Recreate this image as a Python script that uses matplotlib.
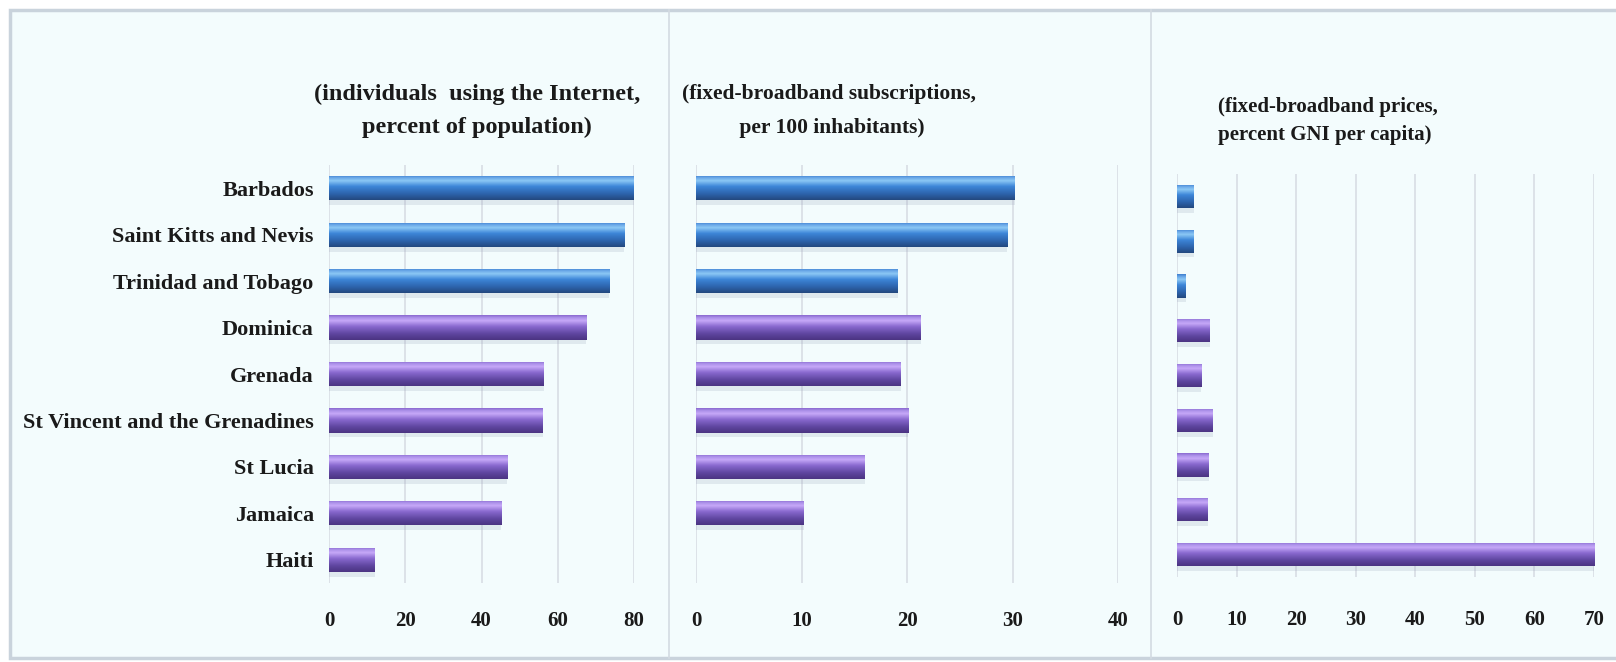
import numpy as np
import matplotlib
matplotlib.use("Agg")
import matplotlib.pyplot as plt
from matplotlib.colors import LinearSegmentedColormap
from matplotlib.patches import Rectangle

# data
countries = ["Barbados", "Saint Kitts and Nevis", "Trinidad and Tobago", "Dominica",
             "Grenada", "St Vincent and the Grenadines", "St Lucia", "Jamaica", "Haiti"]
internet_users = [80, 77.5, 73.5, 67.5, 56.3, 56, 46.8, 45.2, 12]
fbb_subs = [30.2, 29.5, 19.1, 21.3, 19.4, 20.1, 16, 10.2, 0]
fbb_prices = [2.8, 2.8, 1.5, 5.5, 4.1, 6, 5.3, 5.2, 70]
group = ["blue"] * 3 + ["purple"] * 6

titles = ["(individuals  using the Internet,\npercent of population)",
          "(fixed-broadband subscriptions,\n per 100 inhabitants)",
          "(fixed-broadband prices,\npercent GNI per capita)"]
xlims = [(0, 80), (0, 40), (0, 70)]
xticks = [np.arange(0, 81, 20), np.arange(0, 41, 10), np.arange(0, 71, 10)]

W, H = 1616, 662
bg = "#f3fcfd"
font = "Liberation Serif"

# vertical shading of the bars, 0 = bottom, 1 = top
grad = {
    "blue": LinearSegmentedColormap.from_list("b", [(0, "#24497f"), (0.25, "#2d64ad"),
                                                    (0.55, "#3d86d8"), (0.78, "#8cc8f5"),
                                                    (0.9, "#6aa8e8"), (1, "#3f7fcf")]),
    "purple": LinearSegmentedColormap.from_list("p", [(0, "#4b3482"), (0.25, "#5f46a0"),
                                                      (0.55, "#8a6ad0"), (0.78, "#c6a8f8"),
                                                      (0.9, "#ad92ea"), (1, "#8a6ad0")]),
}

fig = plt.figure(figsize=(W / 100, H / 100), dpi=100)
fig.patch.set_facecolor("white")

# outer frame and panel separators
frame = Rectangle((10 / W, 1 - 658 / H), (W - 8) / W, 648 / H, transform=fig.transFigure,
                  facecolor=bg, edgecolor="#c9d3dc", lw=2.5, zorder=-5)
fig.add_artist(frame)
for xs in [669, 1151]:
    fig.add_artist(plt.Line2D([xs / W, xs / W], [1 - 658 / H, 1 - 10 / H],
                              transform=fig.transFigure, color="#d3dbe2", lw=1.2, zorder=-4))

# axes boxes in pixels: left, right, top, bottom
boxes = [(329, 634, 165, 583), (696, 1118, 165, 583), (1177, 1594, 174, 577)]
series = [internet_users, fbb_subs, fbb_prices]
pads = [20, 20, 24]

for k, (box, vals) in enumerate(zip(boxes, series)):
    l, r, t, b = box
    ax = fig.add_axes([l / W, 1 - b / H, (r - l) / W, (b - t) / H])
    ax.set_facecolor("none")
    y = np.arange(len(countries))
    bars = ax.barh(y, vals, height=0.52, color="none", zorder=3)
    # shadow + gradient fill for the cylinder look
    for bar, g in zip(bars, group):
        x0, y0 = bar.get_x(), bar.get_y()
        w, h = bar.get_width(), bar.get_height()
        if w <= 0:
            continue
        sh = Rectangle((x0, y0 + h * 0.2), w, h, facecolor="#9aa6bb", alpha=0.22,
                       edgecolor="none", zorder=2)
        ax.add_patch(sh)
        g_arr = np.linspace(1, 0, 64).reshape(-1, 1)
        im = ax.imshow(g_arr, cmap=grad[g], vmin=0, vmax=1, aspect="auto",
                       extent=(x0, x0 + w, y0 + h, y0), origin="upper", zorder=3,
                       interpolation="bilinear")
        im.set_clip_path(bar)
    ax.set_xlim(*xlims[k])
    ax.set_ylim(len(countries) - 0.5, -0.5)
    ax.set_xticks(xticks[k])
    ax.grid(axis="x", color="#d5dbe2", lw=1.1, zorder=0)
    ax.set_axisbelow(True)
    for s in ax.spines.values():
        s.set_visible(False)
    ax.tick_params(axis="x", length=0, pad=pads[k])
    for lab in ax.get_xticklabels():
        lab.set_fontfamily(font)
        lab.set_fontweight("bold")
        lab.set_fontsize(15)
        lab.set_color("#1a1a1a")
    if k == 0:
        ax.set_yticks(y)
        ax.set_yticklabels(countries, fontfamily=font, fontweight="bold", fontsize=16,
                           color="#1a1a1a")
        ax.tick_params(axis="y", length=0, pad=11)
    else:
        ax.set_yticks([])

# panel titles
fig.text(477 / W, 1 - 111 / H, titles[0], ha="center", va="center", fontfamily=font,
         fontweight="bold", fontsize=17.5, color="#1a1a1a", linespacing=1.7)
fig.text(829 / W, 1 - 111 / H, titles[1], ha="center", va="center", fontfamily=font,
         fontweight="bold", fontsize=15.5, color="#1a1a1a", linespacing=1.9)
fig.text(1218 / W, 1 - 121 / H, titles[2], ha="left", va="center", fontfamily=font,
         fontweight="bold", fontsize=15, color="#1a1a1a", linespacing=1.55)

fig.savefig("out.png", dpi=100, facecolor=fig.get_facecolor())
